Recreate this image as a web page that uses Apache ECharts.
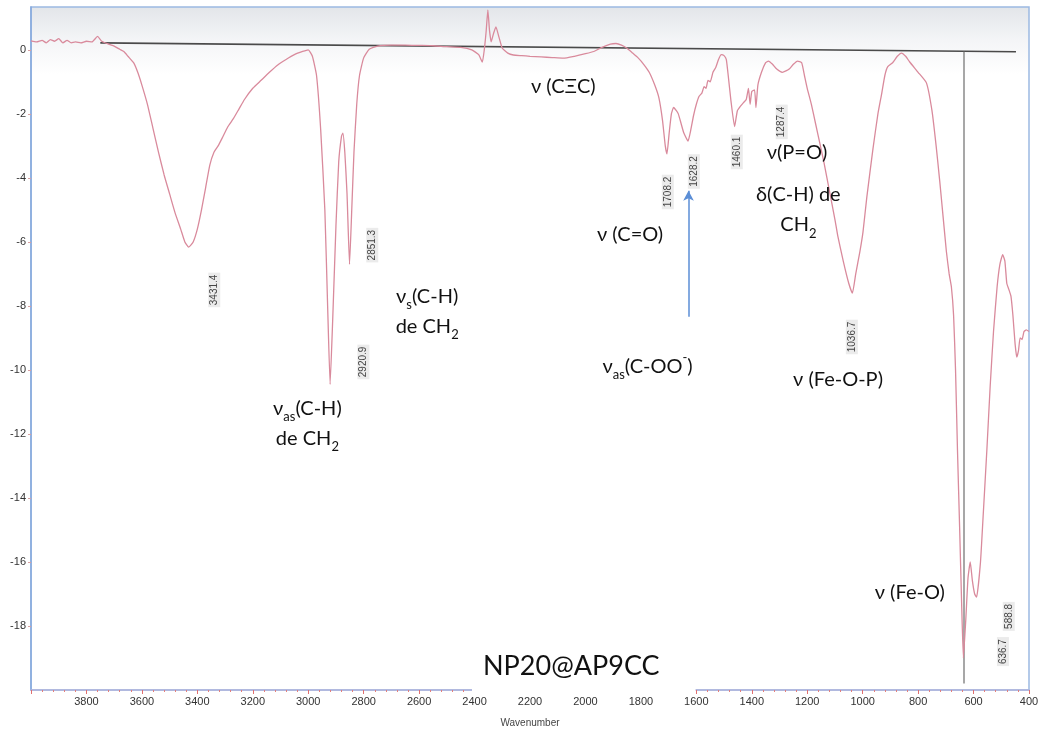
<!DOCTYPE html>
<html>
<head>
<meta charset="utf-8">
<script src="https://cdn.jsdelivr.net/npm/echarts@6/dist/echarts.min.js"></script>
<style>
html,body{margin:0;padding:0;background:#fff;}
#chart{width:1045px;height:734px;}
</style>
</head>
<body>
<div id="chart"></div>
<script>
// ---- data ----
const wavenumbers = [4000,3980,3960,3945,3930,3915,3900,3885,3870,3855,3840,3820,3800,3780,3760,3745,3720,3700,3680,3665,3650,3630,3615,3600,3580,3560,3540,3520,3500,3480,3460,3445,3431,3415,3400,3385,3370,3355,3340,3325,3310,3290,3270,3250,3230,3200,3170,3140,3110,3080,3050,3020,3000,2985,2970,2955,2940,2930,2921,2912,2900,2890,2880,2875,2868,2860,2851,2843,2835,2825,2815,2800,2780,2750,2700,2650,2600,2550,2500,2450,2410,2385,2372,2365,2358,2352,2346,2340,2332,2323,2312,2300,2280,2260,2230,2200,2160,2120,2080,2040,2000,1970,1940,1910,1890,1870,1850,1830,1810,1790,1770,1750,1735,1722,1712,1706,1698,1690,1682,1672,1665,1655,1645,1630,1620,1610,1600,1590,1580,1572,1565,1558,1550,1540,1530,1520,1510,1500,1492,1485,1475,1462,1452,1440,1430,1420,1412,1406,1400,1390,1385,1378,1365,1350,1340,1325,1310,1290,1275,1265,1250,1235,1220,1210,1200,1185,1170,1155,1140,1120,1100,1090,1070,1050,1037,1025,1010,999,985,963,945,931,920,910,892,875,860,845,831,800,770,750,735,722,710,698,688,680,672,665,658,650,643,636.7,628,620,612,604,596,589,575,565,552,540,528,515,505,495,487,480,472,465,458,450,444,438,432,425,418,410,400];
const absorbance = [0.28,0.25,0.3,0.22,0.32,0.27,0.35,0.22,0.3,0.22,0.25,0.22,0.27,0.25,0.42,0.27,0.18,0.12,0.02,-0.05,-0.2,-0.4,-0.7,-1.1,-1.7,-2.45,-3.2,-3.9,-4.5,-5.1,-5.6,-6.0,-6.16,-6.0,-5.6,-5.0,-4.3,-3.6,-3.2,-3.0,-2.75,-2.4,-2.15,-1.85,-1.55,-1.2,-0.95,-0.7,-0.47,-0.3,-0.15,-0.05,0.0,-0.2,-0.8,-2.5,-5.0,-8.0,-10.45,-8.5,-5.5,-3.5,-2.7,-2.6,-3.2,-4.5,-6.7,-5.0,-3.2,-1.7,-0.8,-0.25,0.02,0.12,0.15,0.15,0.14,0.13,0.1,0.08,0.0,-0.15,-0.38,0.0,0.6,1.25,0.6,0.25,0.5,0.72,0.4,0.05,-0.1,-0.16,-0.18,-0.2,-0.22,-0.24,-0.26,-0.2,-0.12,-0.05,0.08,0.18,0.2,0.15,0.05,-0.1,-0.25,-0.45,-0.7,-1.1,-1.5,-2.2,-3.0,-3.25,-2.6,-2.0,-1.8,-1.9,-2.0,-2.3,-2.6,-2.85,-2.5,-2.05,-1.7,-1.45,-1.35,-1.15,-1.2,-0.95,-1.0,-0.7,-0.55,-0.3,-0.15,-0.18,-0.3,-0.8,-1.6,-2.4,-1.9,-1.75,-1.65,-1.55,-1.2,-1.7,-1.3,-1.25,-1.8,-1.1,-0.7,-0.4,-0.35,-0.45,-0.6,-0.7,-0.65,-0.6,-0.45,-0.35,-0.4,-0.8,-1.2,-1.7,-2.3,-2.9,-3.5,-4.4,-5.3,-5.8,-6.6,-7.3,-7.6,-7.0,-6.3,-5.7,-4.6,-3.1,-2.0,-1.35,-0.8,-0.53,-0.4,-0.2,-0.1,-0.2,-0.37,-0.7,-1.03,-1.9,-3.0,-4.1,-5.2,-6.3,-7.0,-7.4,-8.3,-10.0,-12.5,-15.0,-17.3,-19.0,-17.8,-16.5,-16.0,-16.6,-17.0,-17.1,-16.0,-14.5,-12.5,-10.5,-8.8,-7.4,-6.7,-6.4,-6.6,-7.3,-7.5,-7.7,-8.3,-9.2,-9.6,-9.4,-9.0,-9.05,-8.8,-8.75,-8.8];
const peakLabels = ['3431.4','2920.9','2851.3','1708.2','1628.2','1460.1','1287.4','1036.7','636.7','588.8'];
const peakLabelPos = [[3339,-7.5],[2801,-9.75],[2769,-6.1],[1703,-4.44],[1609,-3.8],[1454,-3.19],[1292,-2.25],[1039,-8.97],[494,-18.8],[473,-17.7]];
const xTickLabels = ['3800','3600','3400','3200','3000','2800','2600','2400','2200','2000','1800','1600','1400','1200','1000','800','600','400'];
const yTickLabels = ['0','-2','-4','-6','-8','-10','-12','-14','-16','-18'];

const FONT = 'Lato, "Open Sans", "Noto Sans", sans-serif';
const annotations = [
  {f:'{t|ν (CΞC)}', c:[2080,-1.16]},
  {f:'{t|ν(P=O)}', c:[1237,-3.22]},
  {f:'{t|δ(C-H) de}\n{t|CH}{s|2}', c:[1232,-5.0]},
  {f:'{t|ν (C=O)}', c:[1839,-5.78]},
  {f:'{t|ν}{s|as}{t|(C-OO}{p|-}{t|)}', c:[1776,-9.9]},
  {f:'{t|ν (Fe-O-P)}', c:[1089,-10.3]},
  {f:'{t|ν (Fe-O)}', c:[830,-16.97]},
  {f:'{t|ν}{s|s}{t|(C-H)}\n{t|de CH}{s|2}', c:[2571,-8.16]},
  {f:'{t|ν}{s|as}{t|(C-H)}\n{t|de CH}{s|2}', c:[3003,-11.66]}
];

const chart = echarts.init(document.getElementById('chart'));
const richStyle = {
  t:{fontSize:20, fontFamily:FONT, color:'#111111', lineHeight:30},
  s:{fontSize:13, fontFamily:FONT, color:'#111111', lineHeight:13, verticalAlign:'bottom'},
  p:{fontSize:13, fontFamily:FONT, color:'#111111', lineHeight:13, verticalAlign:'top'}
};

chart.setOption({
  animation:false,
  backgroundColor:'#ffffff',
  title:{
    text:'NP20@AP9CC', left:472, top:645,
    padding:[8,36,15,11], backgroundColor:'#ffffff', z:20,
    textStyle:{fontSize:27, fontWeight:'normal', fontFamily:FONT, color:'#111111'}
  },
  grid:{left:31, right:16, top:7, bottom:44, show:true, borderColor:'#9cb9e2', borderWidth:1.5,
    backgroundColor:new echarts.graphic.LinearGradient(0,0,0,1,[{offset:0,color:'#e2e5e9'},{offset:0.05,color:'#f4f5f7'},{offset:0.1,color:'#ffffff'},{offset:1,color:'#ffffff'}])},
  xAxis:{
    type:'value', inverse:true, min:400, max:4000, interval:200,
    name:'Wavenumber', nameLocation:'middle', nameGap:28,
    nameTextStyle:{fontSize:10, color:'#444', fontFamily:'"Liberation Sans", Arial, sans-serif'},
    axisLine:{show:true, onZero:false, lineStyle:{color:'#b0b4dc', width:1.5}},
    axisTick:{show:true, length:4, lineStyle:{color:'#e07070'}},
    minorTick:{show:true, splitNumber:5, length:2, lineStyle:{color:'#e08080'}},
    splitLine:{show:false},
    axisLabel:{fontSize:11, color:'#333', margin:6, fontFamily:'"Liberation Sans", Arial, sans-serif', showMaxLabel:false,
      formatter:function(v){ const s=String(v); return xTickLabels.indexOf(s)>=0 ? s : ''; }}
  },
  yAxis:{
    type:'value', min:-20, max:1.34, interval:2,
    axisLine:{show:true, onZero:false, lineStyle:{color:'#86a9dc', width:1.5}},
    axisTick:{show:true, length:3, lineStyle:{color:'#d9a0a0'}},
    splitLine:{show:false},
    axisLabel:{fontSize:11, color:'#333', margin:5, fontFamily:'"Liberation Sans", Arial, sans-serif', showMinLabel:false, showMaxLabel:false,
      formatter:function(v){ const s=String(v); return yTickLabels.indexOf(s)>=0 ? s : ''; }}
  },
  series:[
    {
      type:'line', name:'spectrum', showSymbol:false, smooth:0.15,
      data:wavenumbers.map((w,i)=>[w,absorbance[i]]),
      lineStyle:{color:'#d98a9c', width:1.3},
      z:5,
      markLine:{
        silent:true, symbol:['none','none'], label:{show:false},
        data:[
          [{coord:[3750,0.22], lineStyle:{color:'#4a4a4a', width:1.6, type:'solid'}},{coord:[447,-0.06]}],
          [{coord:[636.7,-0.06], lineStyle:{color:'#8a8a8a', width:1.5, type:'solid'}},{coord:[636.7,-19.8]}]
        ]
      }
    },
    {
      type:'line', name:'arrow', data:[], showSymbol:false,
      markLine:{
        silent:true, symbol:['none','arrow'], symbolSize:[8,10], label:{show:false},
        lineStyle:{color:'#5b8ed6', width:1.5, type:'solid'},
        data:[[{coord:[1628.2,-8.34]},{coord:[1628.2,-4.4]}]]
      }
    },
    {
      type:'scatter', name:'peaks', symbolSize:0, z:10,
      itemStyle:{opacity:1},
      data:peakLabels.map((t,i)=>({value:peakLabelPos[i], name:t})),
      label:{show:true, position:'inside', rotate:90, formatter:'{b}', fontSize:10, color:'#444',
        fontFamily:'"Liberation Sans", Arial, sans-serif', backgroundColor:'#ebebeb', padding:[1,2]}
    },
    {
      type:'scatter', name:'annotations', symbolSize:0, z:11,
      itemStyle:{opacity:1},
      data:annotations.map(a=>({value:a.c, label:{formatter:a.f}})),
      label:{show:true, position:'inside', align:'center', color:'#111111', rich:richStyle}
    }
  ]
});
</script>
</body>
</html>
